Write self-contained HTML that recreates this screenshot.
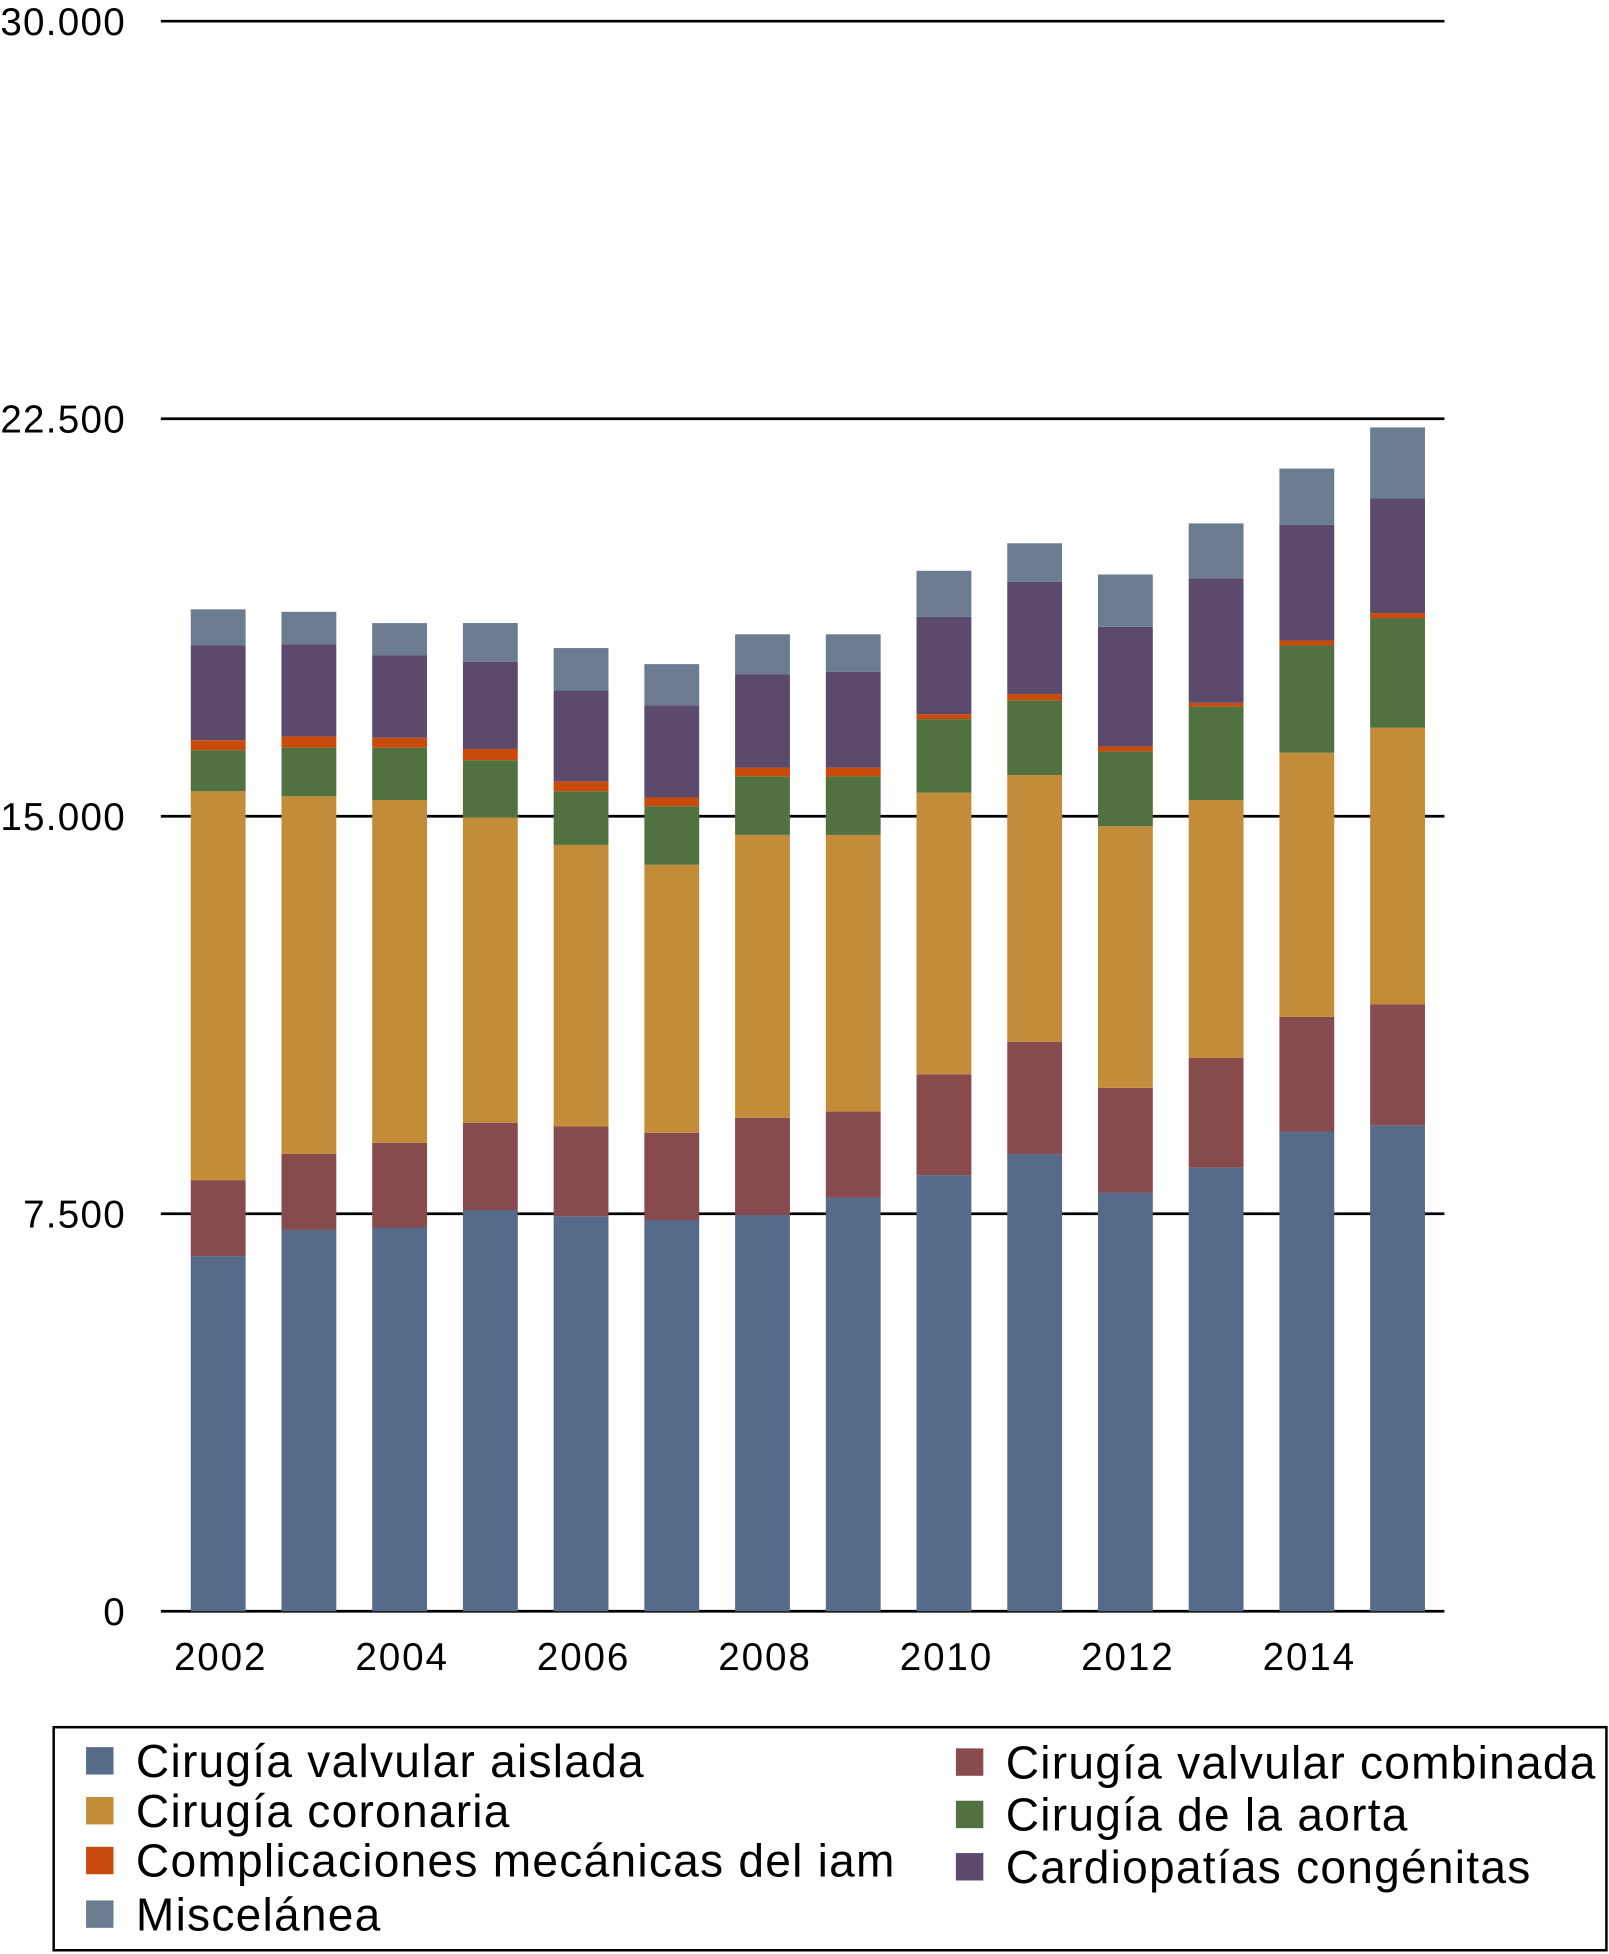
<!DOCTYPE html>
<html><head><meta charset="utf-8"><style>
html,body{margin:0;padding:0;background:#fff;}
svg{display:block;font-family:"Liberation Sans",Arial,sans-serif;}
</style></head><body>
<svg id="chart" width="1609" height="1954" viewBox="0 0 1291 1568" xmlns="http://www.w3.org/2000/svg">
<g id="grid"></g>
<g id="bars"></g>
<g id="axes"></g>
<g id="legend">
<rect x="43" y="1386" width="1246" height="179" fill="none" stroke="#000" stroke-width="2"/>
</g>
</svg>
<script>
const years = ["2002","2003","2004","2005","2006","2007","2008","2009","2010","2011","2012","2013","2014","2015"];
const yearLabels = ["2002","","2004","","2006","","2008","","2010","","2012","","2014",""];
const yTicks = [0, 7500, 15000, 22500, 30000];
const yTickLabels = ["0", "7.500", "15.000", "22.500", "30.000"];
const valvularAislada = [6701,7195,7241,7571,7453,7383,7477,7806,8229,8629,7900,8370,9052,9170];
const valvularCombinada = [1434,1434,1599,1646,1693,1646,1834,1622,1904,2116,1975,2069,2163,2281];
const coronaria = [7336,6748,6466,5760,5313,5055,5337,5219,5313,5031,4937,4867,4984,5219];
const aorta = [776,917,987,1081,1011,1105,1105,1105,1387,1411,1411,1763,2022,2069];
const complicacionesIam = [188,212,188,212,188,165,165,165,94,118,94,71,94,94];
const congenitas = [1787,1740,1552,1646,1716,1740,1763,1810,1834,2116,2257,2351,2186,2163];
const miscelanea = [682,611,611,729,799,776,752,705,870,729,987,1034,1058,1340];
const seriesNames = ["Cirugía valvular aislada","Cirugía valvular combinada","Cirugía coronaria","Cirugía de la aorta","Complicaciones mecánicas del iam","Cardiopatías congénitas","Miscelánea"];

const NS = "http://www.w3.org/2000/svg";
const colors = ["#566a89","#874a4d","#c28c38","#527141","#c94b0c","#5b4a6c","#6b7c91"];
const slugs = ["valvular-aislada","valvular-combinada","coronaria","aorta","complicaciones-iam","congenitas","miscelanea"];
const series = [valvularAislada, valvularCombinada, coronaria, aorta, complicacionesIam, congenitas, miscelanea];
const y0 = 1293, y1 = 17, yMax = 30000;
function yScale(v){ return y0 - (v / yMax) * (y0 - y1); }
function xCenter(i){ return 175 + i * 72.8; }
const barW = 44;
function mk(tag, attrs, parent){ const e = document.createElementNS(NS, tag); for (const k in attrs) e.setAttribute(k, attrs[k]); parent.appendChild(e); return e; }

const grid = document.getElementById('grid');
const axes = document.getElementById('axes');
yTicks.forEach((t, i) => {
  const l = mk('line', {x1:129, x2:1159, y1:yScale(t), y2:yScale(t), stroke:'#000', 'stroke-width':2.2}, grid);
  
  
  const tx = mk('text', {x:101, y:yScale(t) + 11, 'text-anchor':'end', 'font-size':31, 'letter-spacing':1, fill:'#000'}, axes);
  tx.textContent = yTickLabels[i];
  
  
});

const bars = document.getElementById('bars');
years.forEach((yr, i) => {
  let cum = 0;
  series.forEach((s, k) => {
    const v = s[i];
    const top = yScale(cum + v), bot = yScale(cum);
    const r = mk('rect', {x:xCenter(i) - barW/2, y:top, width:barW, height:Math.max(0, bot - top), fill:colors[k]}, bars);
    
    
    cum += v;
  });
  if (yearLabels[i]) {
    const t = mk('text', {x:xCenter(i) + 2, y:1340, 'text-anchor':'middle', 'font-size':31, 'letter-spacing':1.5, fill:'#000'}, axes);
    t.textContent = yearLabels[i];
    
    
  }
});

const legend = document.getElementById('legend');
const legendPos = [
  [0, 69, 1413], [2, 69, 1453], [4, 69, 1493], [6, 69, 1536],
  [1, 767, 1414], [3, 767, 1456], [5, 767, 1498]
];
legendPos.forEach(([k, x, y]) => {
  const sw = mk('rect', {x:x, y:y - 11, width:22, height:22, fill:colors[k]}, legend);
  
  
  const t = mk('text', {x:x + 40, y:y + 13, 'font-size':37, 'letter-spacing':1, fill:'#000'}, legend);
  t.textContent = seriesNames[k];
  
  
});
</script>
</body></html>
